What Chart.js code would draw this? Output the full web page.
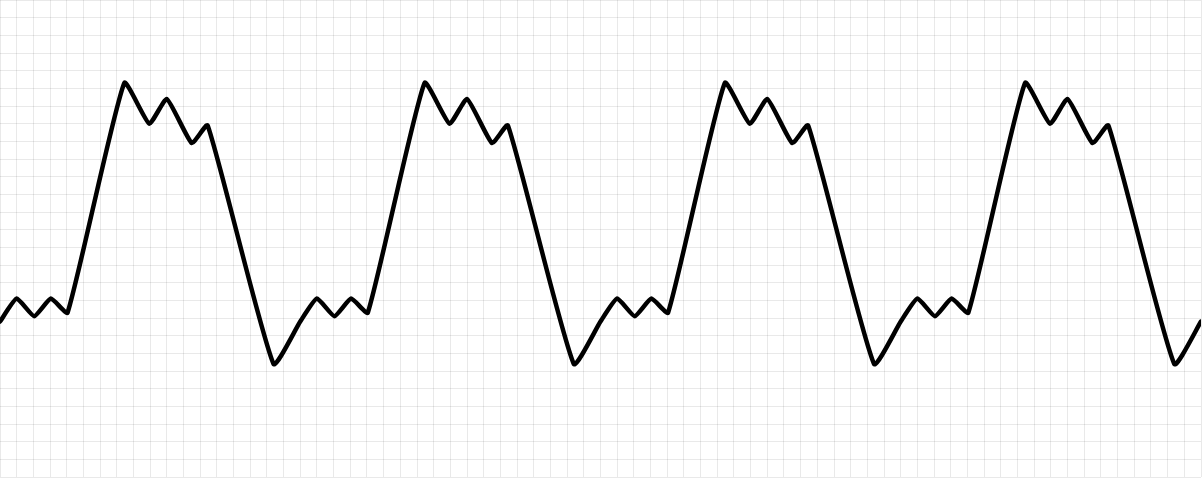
<!DOCTYPE html>
<html>
<head>
<meta charset="utf-8">
<script src="https://cdn.jsdelivr.net/npm/chart.js@4/dist/chart.umd.min.js"></script>
<style>
  html, body { margin: 0; padding: 0; background: #ffffff; }
  #wrap { width: 1202px; height: 478px; position: relative; }
</style>
</head>
<body>
<div id="wrap"><canvas id="c"></canvas></div>
<script>
// Phase (degrees) of each vertex of the waveform
const xValues = [
  0, 20, 41, 61, 81, 149, 179, 200, 230, 249, 328,
  360, 380, 401, 421, 441, 509, 539, 560, 590, 609, 688,
  720, 740, 761, 781, 801, 869, 899, 920, 950, 969, 1048,
  1080, 1100, 1121, 1141, 1161, 1229, 1259, 1280, 1310, 1329, 1408,
  1440
];
// Signal level at each vertex
const yValues = [
  -0.52, -0.39, -0.49, -0.39, -0.47, 0.83, 0.60, 0.74, 0.49, 0.59, -0.76,
  -0.52, -0.39, -0.49, -0.39, -0.47, 0.83, 0.60, 0.74, 0.49, 0.59, -0.76,
  -0.52, -0.39, -0.49, -0.39, -0.47, 0.83, 0.60, 0.74, 0.49, 0.59, -0.76,
  -0.52, -0.39, -0.49, -0.39, -0.47, 0.83, 0.60, 0.74, 0.49, 0.59, -0.76,
  -0.52
];
const xRange = [0, 1440];
const xStep = 20;
const yRange = [-1.4, 1.3];
const yStep = 0.1;

const points = xValues.map((x, i) => ({ x: x, y: yValues[i] }));

new Chart(document.getElementById('c'), {
  type: 'line',
  data: {
    datasets: [{
      data: points,
      borderColor: '#000000',
      borderWidth: 4.5,
      borderJoinStyle: 'round',
      borderCapStyle: 'round',
      pointRadius: 0,
      tension: 0.15,
      fill: false
    }]
  },
  options: {
    responsive: true,
    maintainAspectRatio: false,
    animation: false,
    layout: { padding: { top: 0, left: 0, right: 1, bottom: 1 } },
    plugins: { legend: { display: false }, tooltip: { enabled: false } },
    scales: {
      x: {
        type: 'linear',
        min: xRange[0], max: xRange[1],
        ticks: { display: false, stepSize: xStep },
        grid: { drawTicks: false, color: 'rgba(0,0,0,0.085)', lineWidth: 1 },
        border: { display: false }
      },
      y: {
        type: 'linear',
        min: yRange[0], max: yRange[1],
        ticks: { display: false, stepSize: yStep },
        grid: { drawTicks: false, color: 'rgba(0,0,0,0.085)', lineWidth: 1 },
        border: { display: false }
      }
    }
  }
});
</script>
</body>
</html>
